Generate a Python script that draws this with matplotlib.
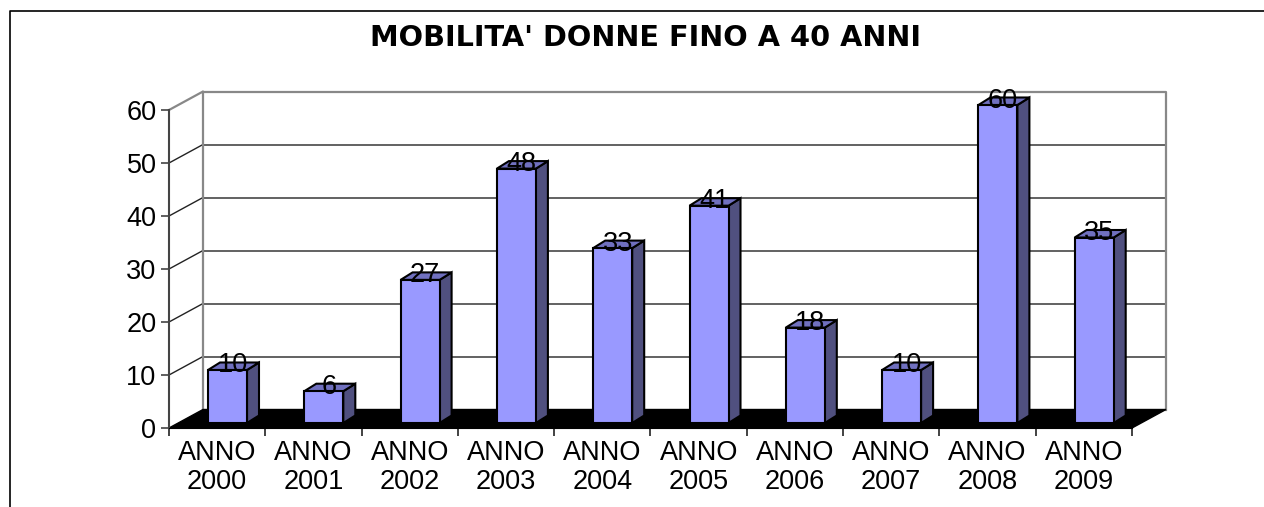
import matplotlib
matplotlib.use("Agg")
import matplotlib.pyplot as plt
from matplotlib.lines import Line2D

plt.rcParams['font.family'] = ['Liberation Sans', 'DejaVu Sans']

#the data
years = ["ANNO\n2000", "ANNO\n2001", "ANNO\n2002", "ANNO\n2003", "ANNO\n2004",
         "ANNO\n2005", "ANNO\n2006", "ANNO\n2007", "ANNO\n2008", "ANNO\n2009"]
values = [10, 6, 27, 48, 33, 41, 18, 10, 60, 35]
yticks = [0, 10, 20, 30, 40, 50, 60]

W, H = 1264, 507
fig = plt.figure(figsize=(W / 100, H / 100), dpi=100)

#axes is the front plane of the fake 3d box
left, right, top, bottom = 169, 1132, 110, 428
ax = fig.add_axes([left / W, 1 - bottom / H, (right - left) / W, (bottom - top) / H])
ax.set_xlim(0, 10)
ax.set_ylim(0, 60)
ax.patch.set_visible(False)
for s in ['top', 'right']:
    ax.spines[s].set_visible(False)
ax.spines['left'].set_color('#444444')
ax.spines['left'].set_linewidth(1.5)
ax.spines['bottom'].set_color('black')

#pixel size of one unit, used for the depth offsets
ux = (right - left) / 10
uy = (bottom - top) / 60
wall_dx = 34 / ux
wall_dy = 18.5 / uy

#back wall and side walls
for v in yticks[1:-1]:
    ax.plot([wall_dx, 10 + wall_dx], [v + wall_dy, v + wall_dy], color='#555555', lw=1.3, zorder=1, clip_on=False)
    ax.plot([0, wall_dx], [v, v + wall_dy], color='#222222', lw=1, zorder=1, clip_on=False)
ax.plot([0, wall_dx, wall_dx], [60, 60 + wall_dy, wall_dy], color='#888888', lw=1.6, zorder=1, clip_on=False)
ax.plot([wall_dx, 10 + wall_dx, 10 + wall_dx], [60 + wall_dy, 60 + wall_dy, wall_dy], color='#888888', lw=1.6, zorder=1, clip_on=False)

#black floor
ax.fill([0, wall_dx, 10 + wall_dx, 10], [0, wall_dy, wall_dy, 0], color='black', zorder=2, clip_on=False)

#bars, drawn as three faces each
bar_w = 39 / ux
base_x = 0.405
base_y = 5 / uy
depth_x = 12 / ux
depth_y = 7.5 / uy
for i, v in enumerate(values):
    x0 = i + base_x
    x1 = x0 + bar_w
    y0 = base_y
    y1 = base_y + v
    ax.fill([x1, x1 + depth_x, x1 + depth_x, x1], [y0, y0 + depth_y, y1 + depth_y, y1],
            facecolor='#50507F', edgecolor='black', lw=1.5, zorder=3, clip_on=False)
    ax.fill([x0, x0 + depth_x, x1 + depth_x, x1], [y1, y1 + depth_y, y1 + depth_y, y1],
            facecolor='#7070BF', edgecolor='black', lw=1.5, zorder=3, clip_on=False)
    ax.fill([x0, x1, x1, x0], [y0, y0, y1, y1],
            facecolor='#9999FF', edgecolor='black', lw=1.5, zorder=4, clip_on=False)
    ax.text(x0 + bar_w / 2 + 5 / ux, y1 + 4.5 / uy, str(v), ha='center', va='center',
            fontsize=19.5, color='black', zorder=5, clip_on=False)

#axis ticks and labels
ax.set_yticks(yticks)
ax.tick_params(axis='y', length=6, width=1.2, color='#444444', labelsize=19.5, pad=3)
ax.set_xticks(range(11))
ax.set_xticklabels([])
ax.tick_params(axis='x', length=6, width=1.2, color='#222222')
for i, label in enumerate(years):
    ax.text(i + 0.5, -39.5 / uy, label, ha='center', va='center', fontsize=19.5, linespacing=1.13, clip_on=False)

#title and outer frame
fig.text(645 / W, 1 - 38.5 / H, "MOBILITA' DONNE FINO A 40 ANNI", ha='center', va='center',
         fontsize=20.7, fontweight='bold', family='DejaVu Sans')
fig.add_artist(Line2D([9.5 / W, 9.5 / W, 1], [0, 1 - 11 / H, 1 - 11 / H], color='black', lw=1.2))

fig.savefig('out.png', dpi=100)
